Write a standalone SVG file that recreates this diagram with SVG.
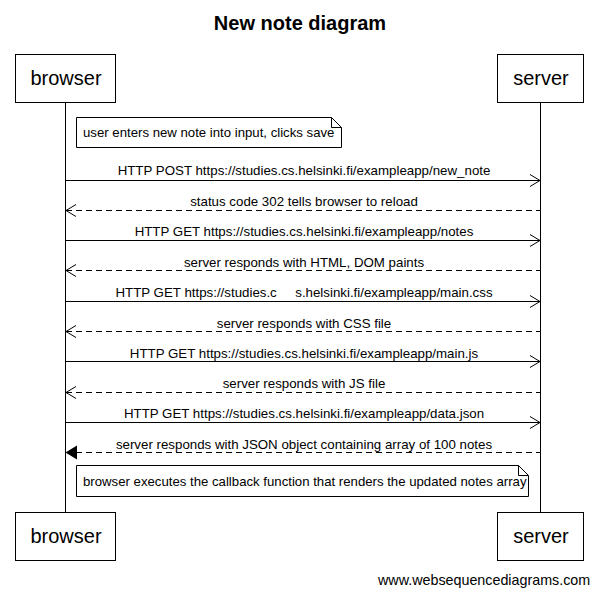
<svg xmlns="http://www.w3.org/2000/svg" width="598" height="595" viewBox="0 0 598 595">
<defs>
<style>
text{font-family:"Liberation Sans",Arial,sans-serif;fill:#000}
.t{font-size:20px;font-weight:bold;text-anchor:middle}
.a{font-size:20px;text-anchor:middle}
.l{font-size:13.3px;text-anchor:middle;white-space:pre}
.n{font-size:13.2px}
.box{fill:#fff;stroke:#000;stroke-width:1}
.life{stroke:#000;stroke-width:1}
.m{stroke:#000;stroke-width:1;fill:none}
.d{stroke-dasharray:6,4}
.w{font-size:14.3px}
</style>
</defs>
<rect width="598" height="595" fill="#fff"/>
<text class="t" x="300" y="30">New note diagram</text>
<g id="lifelines">
<line class="life" x1="65.5" y1="103" x2="65.5" y2="512"/>
<line class="life" x1="540.5" y1="103" x2="540.5" y2="512"/>
</g>
<g id="browser">
<rect class="box" x="15.5" y="54.5" width="100" height="48"/>
<text class="a" x="66" y="85">browser</text>
<rect class="box" x="15.5" y="512.5" width="100" height="48"/>
<text class="a" x="66" y="543">browser</text>
</g>
<g id="server">
<rect class="box" x="497.5" y="54.5" width="86" height="48"/>
<text class="a" x="541" y="85">server</text>
<rect class="box" x="497.5" y="512.5" width="86" height="48"/>
<text class="a" x="541" y="543">server</text>
</g>
<g id="note1">
<path class="box" d="M76.5,117.5 H331.5 L341.5,127.5 V147.5 H76.5 Z"/>
<path class="m" d="M331.5,117.5 V127.5 H341.5"/>
<text class="n" x="83" y="137">user enters new note into input, clicks save</text>
</g>
<g id="connectors">
<line class="m" x1="65.5" y1="180.5" x2="540" y2="180.5"/>
<path class="m" d="M530,174.5 L540,180.5 L530,186.5"/>
<text class="l" x="304" y="175">HTTP POST https://studies.cs.helsinki.fi/exampleapp/new_note</text>

<line class="m d" x1="66" y1="210.5" x2="540.5" y2="210.5"/>
<path class="m" d="M76,204.5 L66,210.5 L76,216.5"/>
<text class="l" x="304" y="206">status code 302 tells browser to reload</text>

<line class="m" x1="65.5" y1="240.5" x2="540" y2="240.5"/>
<path class="m" d="M530,234.5 L540,240.5 L530,246.5"/>
<text class="l" x="304" y="236">HTTP GET https://studies.cs.helsinki.fi/exampleapp/notes</text>

<line class="m d" x1="66" y1="270.5" x2="540.5" y2="270.5"/>
<path class="m" d="M76,264.5 L66,270.5 L76,276.5"/>
<text class="l" x="304" y="267">server responds with HTML, DOM paints</text>

<line class="m" x1="65.5" y1="301.5" x2="540" y2="301.5"/>
<path class="m" d="M530,295.5 L540,301.5 L530,307.5"/>
<text class="l" x="304" y="297">HTTP GET https://studies.c     s.helsinki.fi/exampleapp/main.css</text>

<line class="m d" x1="66" y1="331.5" x2="540.5" y2="331.5"/>
<path class="m" d="M76,325.5 L66,331.5 L76,337.5"/>
<text class="l" x="304" y="328">server responds with CSS file</text>

<line class="m" x1="65.5" y1="361.5" x2="540" y2="361.5"/>
<path class="m" d="M530,355.5 L540,361.5 L530,367.5"/>
<text class="l" x="304" y="358">HTTP GET https://studies.cs.helsinki.fi/exampleapp/main.js</text>

<line class="m d" x1="66" y1="392.5" x2="540.5" y2="392.5"/>
<path class="m" d="M76,386.5 L66,392.5 L76,398.5"/>
<text class="l" x="304" y="388">server responds with JS file</text>

<line class="m" x1="65.5" y1="422.5" x2="540" y2="422.5"/>
<path class="m" d="M530,416.5 L540,422.5 L530,428.5"/>
<text class="l" x="304" y="418">HTTP GET https://studies.cs.helsinki.fi/exampleapp/data.json</text>

<line class="m d" x1="76" y1="452.5" x2="540.5" y2="452.5"/>
<path d="M77,445.5 L65.5,452.5 L77,459.5 Z" fill="#000"/>
<text class="l" x="304" y="449">server responds with JSON object containing array of 100 notes</text>
</g>
<g id="note2">
<path class="box" d="M76.5,465.5 H518.5 L528.5,475.5 V496.5 H76.5 Z"/>
<path class="m" d="M518.5,465.5 V475.5 H528.5"/>
<text class="n" x="83" y="486">browser executes the callback function that renders the updated notes array</text>
</g>
<text class="w" x="378" y="585">www.websequencediagrams.com</text>
</svg>
